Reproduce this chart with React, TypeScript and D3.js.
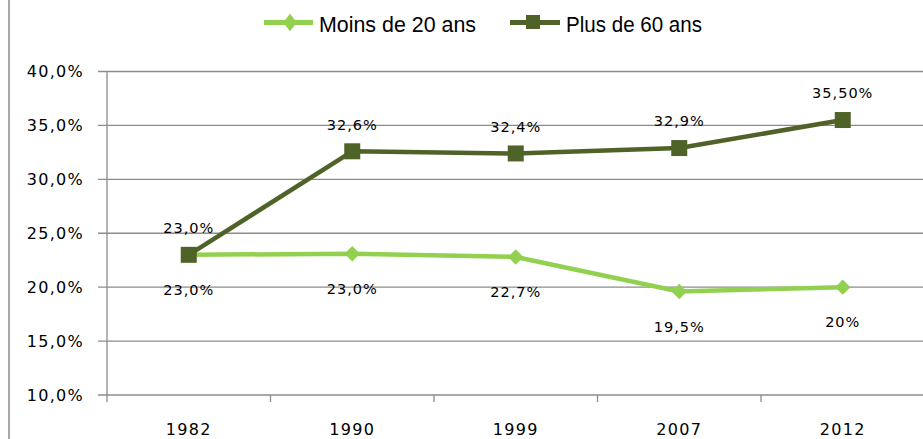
import React from "react";
import * as d3 from "d3";

const years = ["1982", "1990", "1999", "2007", "2012"];
const moins20 = [23.0, 23.1, 22.8, 19.6, 20.0];
const moins20Labels = ["23,0%", "23,0%", "22,7%", "19,5%", "20%"];
const plus60 = [23.0, 32.6, 32.4, 32.9, 35.5];
const plus60Labels = ["23,0%", "32,6%", "32,4%", "32,9%", "35,50%"];
const yTicks = [10, 15, 20, 25, 30, 35, 40];
const yTickLabels = ["10,0%", "15,0%", "20,0%", "25,0%", "30,0%", "35,0%", "40,0%"];
const seriesNames = ["Moins de 20 ans", "Plus de 60 ans"];

const W = 923;
const H = 439;
const LIGHT = "#92D050";
const DARK = "#4F6228";
const GRID = "#8c8c8c";
const FONT = "'DejaVu Sans', sans-serif";
const LEGEND_FONT = "'Liberation Sans', sans-serif";

export default function App() {
  const x = d3.scaleBand<string>().domain(years).range([107, 924.5]).padding(0);
  const y = d3.scaleLinear().domain([10, 40]).range([395, 71.5]);
  const cx = (yr: string) => (x(yr) as number) + x.bandwidth() / 2;
  const line = d3
    .line<number>()
    .x((_, i) => cx(years[i]))
    .y((v) => y(v));
  const diamond = d3.symbol().type(d3.symbolDiamond2).size(150)();

  return (
    <svg
      width={W}
      height={H}
      style={{ position: "absolute", left: 0, top: 0, background: "#fff" }}
    >
      <rect x={0} y={0} width={W} height={H} fill="#fff" />
      {/* outer chart border */}
      <line x1={9} x2={9} y1={0} y2={H} stroke="#8c8c8c" strokeWidth={1.5} />

      {/* gridlines */}
      {yTicks.map((t) => (
        <line key={t} x1={98} x2={W} y1={y(t)} y2={y(t)} stroke={GRID} strokeWidth={1.3} />
      ))}
      {/* y axis */}
      <line x1={107} x2={107} y1={y(40)} y2={402} stroke={GRID} strokeWidth={1.3} />
      {/* category ticks */}
      {years.map((yr) => (
        <line
          key={yr}
          x1={(x(yr) as number) + x.bandwidth()}
          x2={(x(yr) as number) + x.bandwidth()}
          y1={y(10)}
          y2={402}
          stroke={GRID}
          strokeWidth={1.3}
        />
      ))}
      {yTicks.map((t, i) => (
        <text
          key={t}
          x={84}
          y={y(t)}
          dy="0.36em"
          textAnchor="end"
          fontFamily={FONT}
          fontSize={16}
          letterSpacing={1.3}
          fill="#000"
        >
          {yTickLabels[i]}
        </text>
      ))}
      {years.map((yr) => (
        <text
          key={yr}
          x={cx(yr)}
          y={434.5}
          textAnchor="middle"
          fontFamily={FONT}
          fontSize={16}
          letterSpacing={1.3}
          fill="#000"
        >
          {yr}
        </text>
      ))}

      {/* lines */}
      <path d={line(moins20) || ""} fill="none" stroke={LIGHT} strokeWidth={4.5} strokeLinejoin="round" />
      <path d={line(plus60) || ""} fill="none" stroke={DARK} strokeWidth={4.5} strokeLinejoin="round" />

      {moins20.map((v, i) => (
        <path key={"d" + i} d={diamond || ""} transform={`translate(${cx(years[i])},${y(v)})`} fill={LIGHT} />
      ))}
      {plus60.map((v, i) => (
        <rect key={"s" + i} x={cx(years[i]) - 8} y={y(v) - 8} width={16} height={16} fill={DARK} />
      ))}

      {/* data labels */}
      {plus60.map((v, i) => (
        <text
          key={"pl" + i}
          x={cx(years[i])}
          y={y(v) - 27}
          dy="0.36em"
          textAnchor="middle"
          fontFamily={FONT}
          fontSize={14.5}
          letterSpacing={1}
          fill="#000"
        >
          {plus60Labels[i]}
        </text>
      ))}
      {moins20.map((v, i) => (
        <text
          key={"ml" + i}
          x={cx(years[i])}
          y={y(v) + 35}
          dy="0.36em"
          textAnchor="middle"
          fontFamily={FONT}
          fontSize={14.5}
          letterSpacing={1}
          fill="#000"
        >
          {moins20Labels[i]}
        </text>
      ))}

      {/* legend */}
      <g>
        <line x1={264} x2={313} y1={22.5} y2={22.5} stroke={LIGHT} strokeWidth={5} />
        <path d={diamond || ""} transform="translate(290,22.5) scale(0.9,1.15)" fill={LIGHT} />
        <text
          x={319}
          y={32.3}
          fontFamily={LEGEND_FONT}
          fontSize={21.5}
          textLength={157}
          lengthAdjust="spacingAndGlyphs"
          fill="#000"
        >
          {seriesNames[0]}
        </text>
        <line x1={510} x2={560} y1={22.5} y2={22.5} stroke={DARK} strokeWidth={5} />
        <rect x={526} y={15} width={14} height={14} fill={DARK} />
        <text
          x={566}
          y={32.3}
          fontFamily={LEGEND_FONT}
          fontSize={21.5}
          textLength={136}
          lengthAdjust="spacingAndGlyphs"
          fill="#000"
        >
          {seriesNames[1]}
        </text>
      </g>
    </svg>
  );
}
